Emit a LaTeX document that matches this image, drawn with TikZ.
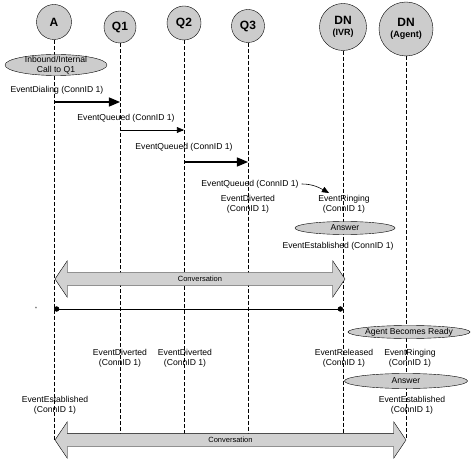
\documentclass[tikz,border=0pt]{standalone}
\usepackage{fontspec}
\setmainfont{Liberation Sans}
\usetikzlibrary{arrows}
\usetikzlibrary{shapes.geometric}
\usetikzlibrary{shapes.arrows}

\begin{document}
\begin{tikzpicture}[x=1pt, y=-1pt,
  party/.style={draw, circle, fill=black!20, inner sep=0pt, align=center, font=\bfseries\fontsize{12}{11}\selectfont},
  lifeline/.style={dash pattern=on 4pt off 2pt, line width=0.8pt},
  evt/.style={inner sep=0pt, align=center, font=\fontsize{8.6}{10}\selectfont},
  note/.style={draw, ellipse, fill=black!20, inner sep=0pt},
  conv/.style={draw, double arrow, fill=black!18, double arrow head extend=11.5pt, double arrow tip angle=112, inner xsep=1pt, inner ysep=3.5pt, text height=5pt, text depth=1pt, font=\fontsize{7.5}{8}\selectfont},
  msg/.style={->, >={triangle 45}, line width=0.6pt},
  bigmsg/.style={msg, line width=1.6pt}]

  \useasboundingbox (0,0) rectangle (474,465);

  % Define nodes
  \node[party, minimum size=35pt] (a) at (54,22) {A};
  \node[party, minimum size=32pt] (q1) at (120,27) {Q1};
  \node[party, minimum size=34pt] (q2) at (184,23) {Q2};
  \node[party, minimum size=33pt] (q3) at (248,26) {Q3};
  \node[party, minimum size=47pt] (ivr) at (343,27) {DN\\{\fontsize{9}{9}\selectfont (IVR)}};
  \node[party, minimum size=54pt] (agent) at (406,29) {DN\\{\fontsize{9}{9}\selectfont (Agent)}};

  % time marks
  \coordinate (tend) at (0,440);
  \coordinate (t1) at (0,102);
  \coordinate (t2) at (0,130);
  \coordinate (t3) at (0,162);
  \coordinate (t4) at (0,309);

  % Lifelines
  \foreach \p in {a,q1,q2,q3,ivr,agent}
    \draw[lifeline] (\p.south) -- (\p |- tend);

  \node[note, minimum width=102pt, minimum height=21pt, label={[evt]center:Inbound/Internal\\Call to Q1}] (call) at (56,65) {};
  \node[evt] (dial) at (57,90) {EventDialing (ConnID 1)};
  \node[evt] (queue1) at (126,118) {EventQueued (ConnID 1)};
  \node[evt] (queue2) at (184,147) {EventQueued (ConnID 1)};
  \node[evt] (queue3) at (250,184) {EventQueued (ConnID 1)};
  \coordinate (hook) at (329,193);
  \node[evt] (divert3) at (248,204.5) {EventDiverted\\(ConnID 1)};
  \node[evt] (ring1) at (344,204.5) {EventRinging\\(ConnID 1)};
  \node[note, minimum width=100pt, minimum height=13pt, label={[evt]center:Answer}] (answer1) at (345,228) {};
  \node[evt] (estab1) at (338,246) {EventEstablished (ConnID 1)};
  \node[conv, minimum height=290pt, minimum width=36pt] (conv1) at (200,279) {Conversation};
  \node[inner sep=0pt, font=\fontsize{5}{5}\selectfont] (tick) at (36,309) {*};
  \node[note, minimum width=122pt, minimum height=13pt, label={[evt]center:Agent Becomes Ready}] (ready) at (409,332) {};
  \node[evt] (divert1) at (120,358) {EventDiverted\\(ConnID 1)};
  \node[evt] (divert2) at (185,358) {EventDiverted\\(ConnID 1)};
  \node[evt] (release) at (344,358) {EventReleased\\(ConnID 1)};
  \node[evt] (ring2) at (410,358) {EventRinging\\(ConnID 1)};
  \node[note, minimum width=123pt, minimum height=15pt, label={[evt]center:Answer}] (answer2) at (406,381) {};
  \node[evt] (estab2) at (55,405) {EventEstablished\\(ConnID 1)};
  \node[evt] (estab3) at (412,405) {EventEstablished\\(ConnID 1)};
  \node[conv, minimum height=351pt, minimum width=34pt] (conv2) at (230.5,440) {Conversation};

  % Connect the nodes
  \draw[bigmsg] (a |- t1) -- (q1 |- t1);
  \draw[msg] (q1 |- t2) -- (q2 |- t2);
  \draw[bigmsg] (q2 |- t3) -- (q3 |- t3);
  \draw[msg] ([xshift=3pt]queue3.east) to[out=0, in=150] (hook);
  \draw[*-*, line width=0.6pt] (a |- t4) -- (ivr |- t4);

\end{tikzpicture}
\end{document}
